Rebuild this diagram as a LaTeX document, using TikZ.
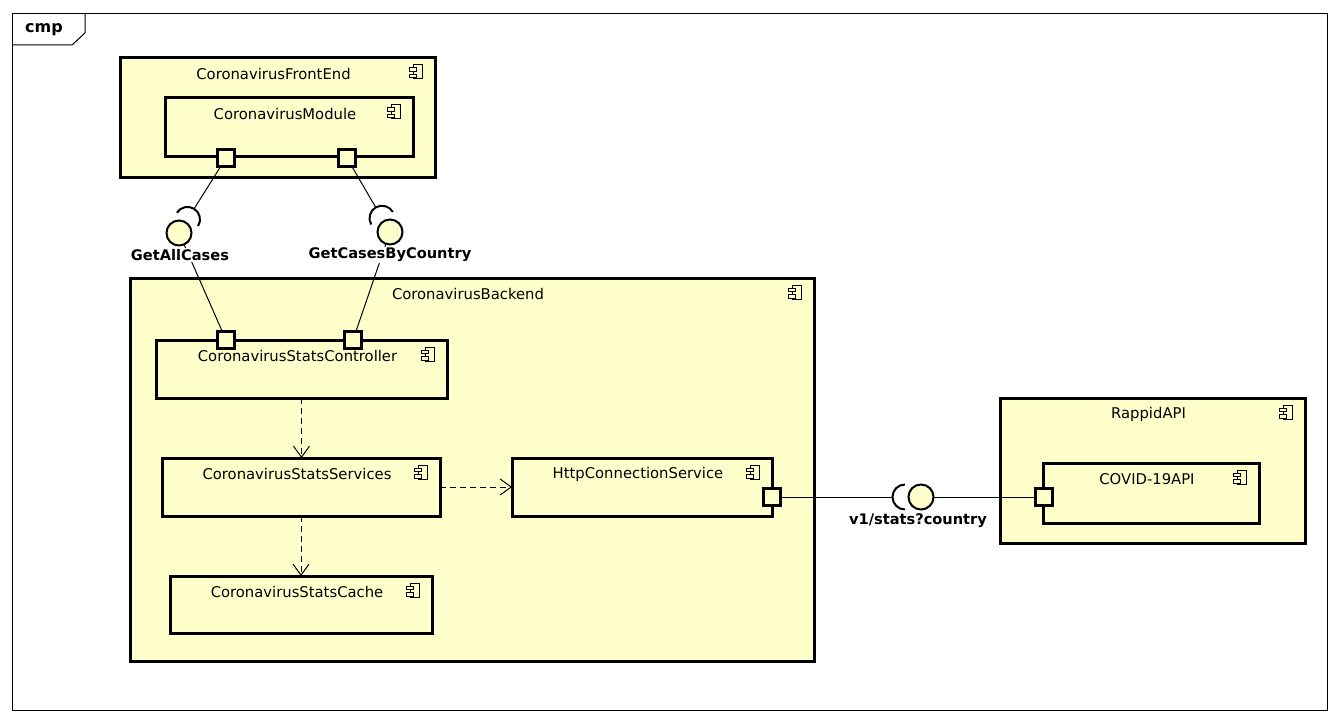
\documentclass[tikz,border=0pt]{standalone}
\usepackage{fontspec}
\setmainfont{DejaVu Sans}
\usetikzlibrary{arrows.meta,calc}
\definecolor{compfill}{HTML}{FFFFCC}

% a UML component: name, corners (x1,y1) (x2,y2), title
\newcommand{\umlcomp}[6]{%
  \node[box, minimum width={#4pt-#2pt}, minimum height={#5pt-#3pt}] (#1) at ({(#2+#4)/2},{(#3+#5)/2}) {};
  \node[ttl] (#1-t) at ($(#1.north)+(-4,16)$) {#6};
  \pic at ($(#1.north east)+(-19,14)$) {compicon};
}

\begin{document}
\begin{tikzpicture}[x=1pt,y=-1pt,
  box/.style={draw, line width=3pt, fill=compfill, rectangle, inner sep=0pt, outer sep=0pt},
  ttl/.style={font=\fontsize{14.8}{17}\selectfont, inner sep=0pt, anchor=center},
  port/.style={draw, line width=2.6pt, fill=compfill, minimum size=17pt, inner sep=0pt, outer sep=0pt},
  ball/.style={draw, line width=2pt, fill=compfill, circle, minimum size=25pt, inner sep=0pt, outer sep=0pt},
  iface/.style={font=\bfseries\fontsize{14.6}{17}\selectfont, fill=white, inner sep=1.5pt},
  conn/.style={line width=1pt},
  sock/.style={line width=2pt},
  dep/.style={line width=1pt, dash pattern=on 6pt off 4pt,
    -{Straight Barb[length=11pt,width=16pt,line width=1pt]}},
  compicon/.pic={
    \draw[line width=1pt, fill=compfill] (-3,-7) rectangle (6,7);
    \draw[line width=1pt, fill=compfill] (-6.5,-4) rectangle (0.5,-0.3);
    \draw[line width=1pt, fill=compfill] (-6.5,2.5) rectangle (0.5,6);
  }
]
\useasboundingbox (0,0) rectangle (1338,722);

% diagram frame with its tab
\draw[line width=1pt] (12,14) rectangle (1327,710);
\draw[line width=1pt] (85,14) -- (85,33) -- (72,45) -- (12,45);
\node[font=\bfseries\fontsize{16}{18}\selectfont, inner sep=0pt] (frame-t) at (44,30) {cmp};

% components
\umlcomp{fe}{120}{58}{435}{178}{CoronavirusFrontEnd}
\umlcomp{mod}{165}{98}{413}{157}{CoronavirusModule}
\umlcomp{be}{130}{278}{814}{661}{CoronavirusBackend}
\umlcomp{ct}{156}{340}{447}{398}{CoronavirusStatsController}
\umlcomp{sv}{162}{458}{440}{516}{CoronavirusStatsServices}
\umlcomp{ht}{512}{458}{772}{516}{HttpConnectionService}
\umlcomp{ca}{170}{576}{432}{633}{CoronavirusStatsCache}
\umlcomp{ra}{1000}{398}{1305}{543}{RappidAPI}
\umlcomp{cv}{1043}{463}{1259}{523}{COVID-19API}

% dependencies inside the backend
\draw[dep] (ct.south) -- (ct.south |- sv.north);
\draw[dep] (sv.south) -- (sv.south |- ca.north);
\draw[dep] (sv.east) -- (ht.west);

% ports
\node[port] (feP1) at (226,158) {};
\node[port] (feP2) at (347,158) {};
\node[port] (ctP1) at (226,340) {};
\node[port] (ctP2) at (353,340) {};
\node[port] (htP) at (772,497) {};
\node[port] (cvP) at (1044,497) {};

% provided interfaces (balls)
\node[ball] (ballA) at (179,233) {};
\node[ball] (ballB) at (390,232) {};
\node[ball] (ballC) at (921,497) {};

% tips of the required-interface sockets
\coordinate (tipA) at (194.1,208.8);
\coordinate (tipB) at (375.7,207.4);
\coordinate (tipC) at (892.5,497);

% connectors
\draw[conn] (feP1) -- (tipA);
\draw[conn] (feP2) -- (tipB);
\draw[conn] (htP) -- (tipC);
\draw[conn] (ballC) -- (cvP);
\draw[conn] (ballA) -- (ctP1);
\draw[conn] (ballB) -- (ctP2);

% sockets
\draw[sock] (176.9,212.8) arc (-148:32:12.5);
\draw[sock] (371.2,224.5) arc (-210.2:-30.2:12.5);
\draw[sock] (905,509.5) arc (90:270:12.5);

% interface names
\node[iface] (lblA) at (180,255) {GetAllCases};
\node[iface] (lblB) at (390,255) {GetCasesByCountry};
\node[iface, fill=none] (lblC) at (918,521) {v1/stats?country};
\end{tikzpicture}
\end{document}
